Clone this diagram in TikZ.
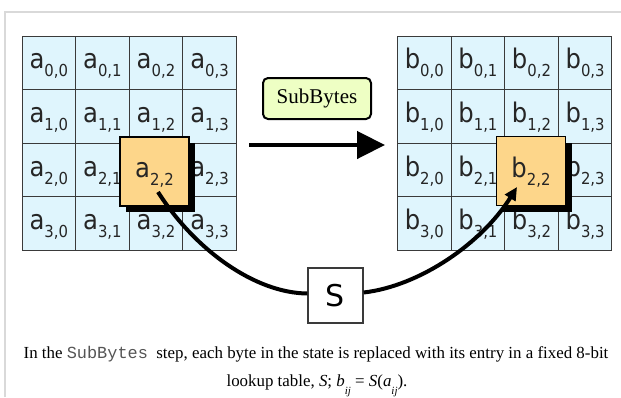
\documentclass[tikz,border=0pt]{standalone}
\usepackage{fontspec}
\setmainfont{Liberation Serif}
\setsansfont{DejaVu Sans}
\setmonofont{Liberation Mono}
\usetikzlibrary{arrows.meta,shadows}
\definecolor{cellblue}{HTML}{DFF5FD}
\definecolor{hlfill}{HTML}{FDD68A}
\definecolor{sbfill}{HTML}{EEFFC4}
\definecolor{framegray}{HTML}{D9D9D9}
\definecolor{gridgray}{HTML}{3A3A3A}
\definecolor{monogray}{HTML}{555555}
\newcommand{\celltxt}[3]{\scalebox{0.9}[1]{\sffamily\fontsize{27}{27}\selectfont #1\raisebox{-8pt}{\fontsize{16.5}{16.5}\selectfont #2,#3}}}
\newcommand{\ijsub}{\raisebox{-8.5pt}{\fontsize{11}{11}\selectfont\textit{ij}}}
\tikzset{
  cellbox/.style={draw=gridgray, line width=0.9pt, fill=cellblue, minimum size=53.6pt, inner sep=0pt, outer sep=0pt},
  celltext/.style={anchor=base, inner sep=0pt, text=black!85},
  hlbox/.style={draw=black, line width=1.3pt, fill=hlfill, minimum size=69pt, inner sep=0pt,
    drop shadow={shadow xshift=6pt, shadow yshift=-6pt, opacity=1, fill=black}},
  sbbox/.style={draw=black, line width=2pt, fill=sbfill, rounded corners=5pt, minimum width=108pt, minimum height=41pt, inner sep=0pt, font=\fontsize{21}{21}\selectfont},
  sboxnode/.style={draw=gridgray, line width=1.3pt, fill=white, minimum size=55pt, inner sep=0pt, font=\sffamily\fontsize{30}{30}\selectfont},
  bigarrow/.style={line width=4.5pt, -{Triangle[length=28pt,width=27pt]}},
  curvearrow/.style={line width=4pt},
  captext/.style={anchor=base, inner sep=0pt, font=\fontsize{16.9}{16.9}\selectfont}
}
\begin{document}
\begin{tikzpicture}[x=1pt,y=-1pt]
\useasboundingbox (0,0) rectangle (621,397);
\draw[framegray, line width=1.5pt] (5,397) -- (5,12) -- (621,12);
% left grid
\foreach \r in {0,...,3}{
  \foreach \c in {0,...,3}{
    \node[cellbox] (a\r\c) at ({22+53.6*(\c+0.5)},{36+53.6*(\r+0.5)}) {};
    \node[celltext] (ta\r\c) at ([yshift=-6pt]a\r\c.center) {\celltxt{a}{\r}{\c}};
  }
}
% right grid
\foreach \r in {0,...,3}{
  \foreach \c in {0,...,3}{
    \node[cellbox] (b\r\c) at ({397.5+53.6*(\c+0.5)},{36+53.6*(\r+0.5)}) {};
    \node[celltext] (tb\r\c) at ([yshift=-6pt]b\r\c.center) {\celltxt{b}{\r}{\c}};
  }
}
% highlighted boxes
\node[hlbox] (ha) at (154.5,171.5) {};
\node[celltext] (tha) at ([yshift=-6pt]ha.center) {\celltxt{a}{2}{2}};
\node[hlbox] (hb) at (531,171) {};
\node[celltext] (thb) at ([yshift=-6pt]hb.center) {\celltxt{b}{2}{2}};
% SubBytes label and arrow
\node[sbbox] (sb) at (317,98.5) {SubBytes};
\coordinate (arrS) at (249,145);
\coordinate (arrE) at (385,145);
\draw[bigarrow] (arrS) -- (arrE);
% S box and curves
\node[sboxnode] (S) at (335.5,295.5) {S};
\coordinate (c1) at (158,192);
\coordinate (c2) at (517,187);
\draw[curvearrow] (c1) .. controls (195,250) and (255,293) .. ([yshift=2pt]S.west);
\draw[curvearrow, -{Triangle[length=13pt,width=12pt]}] ([yshift=3pt]S.east) .. controls (420,286) and (482,243) .. (c2);
% caption
\node[captext] (cap1) at (316,358) {In the \textcolor{monogray}{\texttt{SubBytes}}\ \ step, each byte in the state is replaced with its entry in a fixed 8-bit};
\node[captext] (cap2) at (317,386) {lookup table, \textit{S}; \textit{b}\ijsub\ = \textit{S}(\textit{a}\ijsub).};
\end{tikzpicture}
\end{document}
